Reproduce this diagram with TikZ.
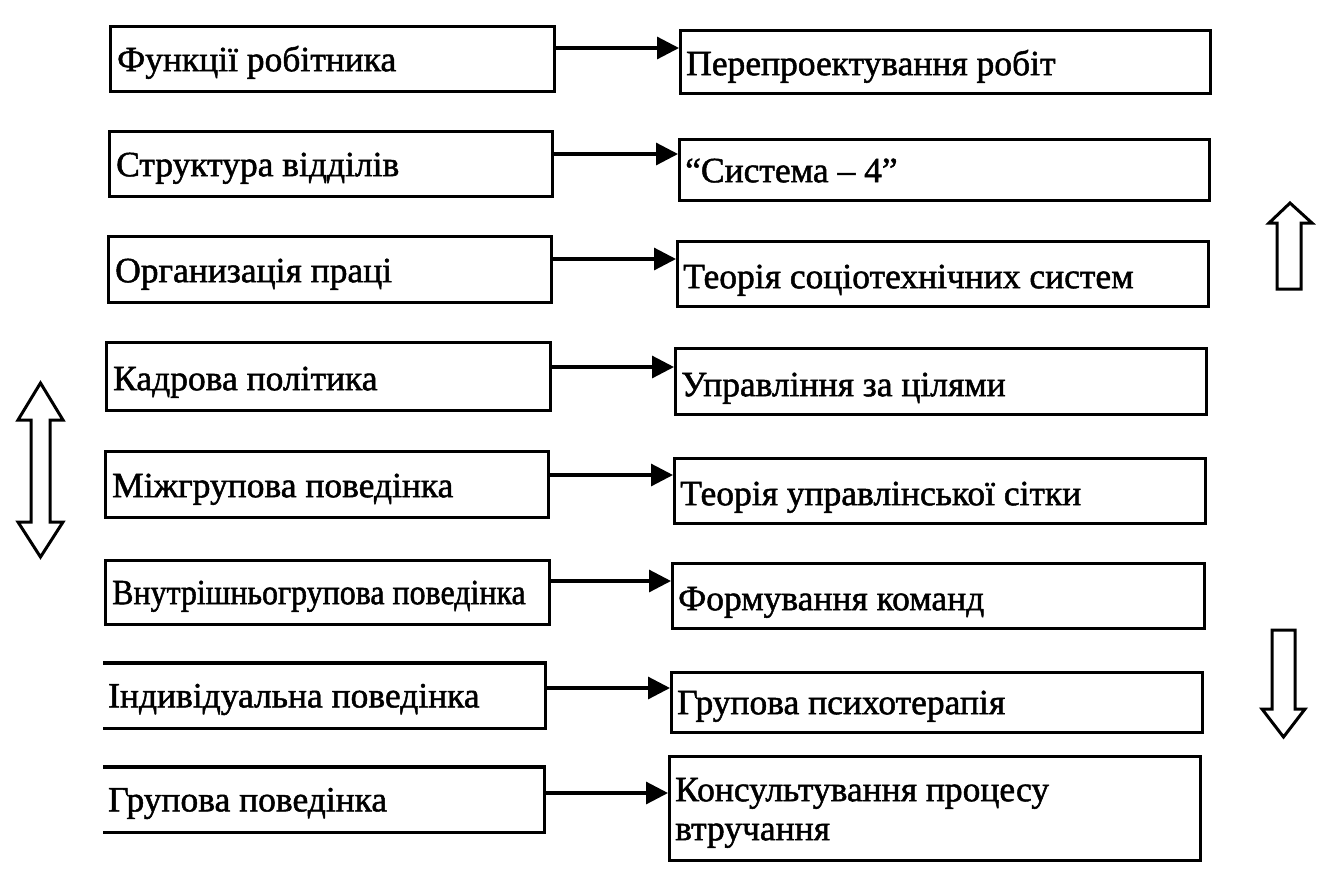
\documentclass[tikz,border=0pt]{standalone}
\usepackage{fontspec}
\setmainfont[FakeBold=1.4]{Liberation Serif}
\newfontfamily\condfont[FakeBold=1.4,FakeStretch=0.9]{Liberation Serif}
\usetikzlibrary{arrows.meta}
\begin{document}
\begin{tikzpicture}[x=1pt,y=-1pt,
  box/.style={draw, line width=3.2pt, inner sep=0pt, anchor=north west},
  openbox/.style={inner sep=0pt, anchor=north west},
  txt/.style={anchor=base west, inner sep=0pt, font=\fontsize{35.5}{40}\selectfont},
  conn/.style={line width=3.2pt, -{Triangle[length=22pt,width=22pt]}},
  blk/.style={line width=3pt, line join=miter, fill=white}]
\useasboundingbox (0,0) rectangle (1344,871);

% left boxes
\node[box, minimum width=444pt, minimum height=65pt] (L1) at (109,25) {};
\node[box, minimum width=443pt, minimum height=65pt] (L2) at (108,130) {};
\node[box, minimum width=443pt, minimum height=66pt] (L3) at (107,235) {};
\node[box, minimum width=444pt, minimum height=68pt] (L4) at (105,341) {};
\node[box, minimum width=443pt, minimum height=66pt] (L5) at (104,450) {};
\node[box, minimum width=444pt, minimum height=64pt] (L6) at (104,559) {};
\node[openbox, minimum width=442pt, minimum height=65pt] (L7) at (103,663) {};
\node[openbox, minimum width=441pt, minimum height=65pt] (L8) at (103,767) {};
\draw[line width=3.2pt] (L7.north west) -- (L7.north east) -- (L7.south east) -- (L7.south west);
\draw[line width=3.2pt] (L8.north west) -- (L8.north east) -- (L8.south east) -- (L8.south west);

% right boxes
\node[box, minimum width=530pt, minimum height=63pt] (R1) at (679,29) {};
\node[box, minimum width=530pt, minimum height=61pt] (R2) at (678,138) {};
\node[box, minimum width=531pt, minimum height=65pt] (R3) at (676,240) {};
\node[box, minimum width=531pt, minimum height=66pt] (R4) at (674,347) {};
\node[box, minimum width=531pt, minimum height=65pt] (R5) at (673,457) {};
\node[box, minimum width=532pt, minimum height=65pt] (R6) at (671,562) {};
\node[box, minimum width=531pt, minimum height=60pt] (R7) at (670,671) {};
\node[box, minimum width=531pt, minimum height=104pt] (R8) at (668,755) {};

% texts
\node[txt, xshift=8pt, yshift=22pt] (L1t) at (L1.south west) {Функції робітника};
\node[txt, xshift=8pt, yshift=22pt] (L2t) at (L2.south west) {Структура відділів};
\node[txt, xshift=8pt, yshift=22pt] (L3t) at (L3.south west) {Организація праці};
\node[txt, xshift=8pt, yshift=22pt] (L4t) at (L4.south west) {Кадрова політика};
\node[txt, xshift=8pt, yshift=22pt] (L5t) at (L5.south west) {Міжгрупова поведінка};
\node[txt, xshift=8pt, yshift=22pt, font=\condfont\fontsize{35.5}{40}\selectfont] (L6t) at (L6.south west) {Внутрішньогрупова поведінка};
\node[txt, xshift=5pt, yshift=21pt] (L7t) at (L7.south west) {Індивідуальна поведінка};
\node[txt, xshift=5pt, yshift=21pt] (L8t) at (L8.south west) {Групова поведінка};

\node[txt, xshift=7pt, yshift=20pt] (R1t) at (R1.south west) {Перепроектування робіт};
\node[txt, xshift=7pt, yshift=20pt] (R2t) at (R2.south west) {“Система – 4”};
\node[txt, xshift=7pt, yshift=20pt] (R3t) at (R3.south west) {Теорія соціотехнічних систем};
\node[txt, xshift=7pt, yshift=20pt] (R4t) at (R4.south west) {Управління за цілями};
\node[txt, xshift=7pt, yshift=20pt] (R5t) at (R5.south west) {Теорія управлінської сітки};
\node[txt, xshift=7pt, yshift=20pt] (R6t) at (R6.south west) {Формування команд};
\node[txt, xshift=7pt, yshift=20pt] (R7t) at (R7.south west) {Групова психотерапія};
\node[txt, xshift=7pt, yshift=61pt] (R8t) at (R8.south west) {Консультування процесу};
\node[txt, xshift=7pt, yshift=22pt] (R8u) at (R8.south west) {втручання};

% connector heights
\coordinate (y1) at (0,48);
\coordinate (y2) at (0,154);
\coordinate (y3) at (0,259);
\coordinate (y4) at (0,367);
\coordinate (y5) at (0,475);
\coordinate (y6) at (0,581);
\coordinate (y7) at (0,688);
\coordinate (y8) at (0,793);
\draw[conn] (L1.east |- y1) -- (R1.west |- y1);
\draw[conn] (L2.east |- y2) -- (R2.west |- y2);
\draw[conn] (L3.east |- y3) -- (R3.west |- y3);
\draw[conn] (L4.east |- y4) -- (R4.west |- y4);
\draw[conn] (L5.east |- y5) -- (R5.west |- y5);
\draw[conn] (L6.east |- y6) -- (R6.west |- y6);
\draw[conn] (L7.east |- y7) -- (R7.west |- y7);
\draw[conn] (L8.east |- y8) -- (R8.west |- y8);

% block arrows
\draw[blk] (40.5,383) -- (63,420) -- (50,420) -- (50,522) -- (63,522) -- (40.5,557)
  -- (18,522) -- (31,522) -- (31,420) -- (18,420) -- cycle;
\draw[blk] (1290,203) -- (1312,223) -- (1301,223) -- (1301,289) -- (1277,289)
  -- (1277,223) -- (1269,223) -- cycle;
\draw[blk] (1272,630) -- (1295,630) -- (1295,709) -- (1305,709) -- (1283.5,737)
  -- (1262,709) -- (1272,709) -- cycle;
\end{tikzpicture}
\end{document}
